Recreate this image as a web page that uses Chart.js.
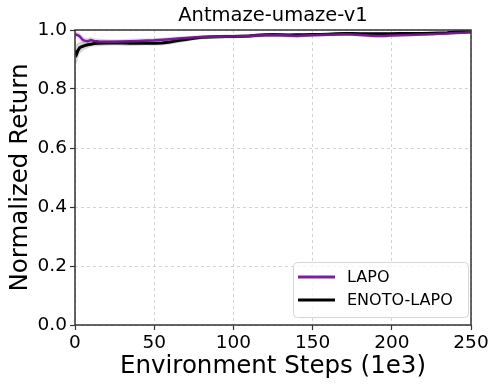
<!DOCTYPE html>
<html>
<head>
<meta charset="utf-8">
<script src="https://cdn.jsdelivr.net/npm/chart.js@4/dist/chart.umd.min.js"></script>
<style>
  html, body { margin: 0; padding: 0; background: #ffffff; }
  #wrap { width: 498px; height: 388px; position: relative; }
</style>
</head>
<body>
<div id="wrap"><canvas id="c" width="498" height="388"></canvas></div>
<script>
// ---- data ----
const chartTitle = "Antmaze-umaze-v1";
const xAxisTitle = "Environment Steps (1e3)";
const yAxisTitle = "Normalized Return";
const seriesNames = ["LAPO", "ENOTO-LAPO"];

const steps = [0,1,2,3,4,5,6,8,10,12,15,
  20,25,30,35,40,45,50,55,60,65,
  70,75,80,85,90,95,100,105,110,115,
  120,125,130,135,140,145,150,155,160,165,
  170,175,180,185,190,195,200,205,210,215,
  220,225,230,235,240,245,250];

const lapoMean = [0.985,0.984,0.982,0.978,0.972,0.966,0.964,0.962,0.966,0.963,0.961,
  0.960,0.960,0.961,0.962,0.963,0.964,0.965,0.967,0.969,0.971,
  0.973,0.975,0.976,0.977,0.977,0.978,0.978,0.979,0.980,0.981,
  0.982,0.983,0.982,0.981,0.980,0.981,0.982,0.983,0.984,0.985,
  0.986,0.985,0.983,0.981,0.980,0.980,0.981,0.982,0.983,0.984,
  0.985,0.986,0.987,0.988,0.990,0.991,0.992];

const lapoStd = [0.008,0.008,0.010,0.012,0.012,0.012,0.011,0.010,0.010,0.009,0.009,
  0.009,0.008,0.008,0.008,0.008,0.007,0.007,0.007,0.007,0.007,
  0.006,0.006,0.006,0.006,0.006,0.006,0.006,0.006,0.006,0.006,
  0.006,0.006,0.006,0.006,0.006,0.005,0.005,0.005,0.005,0.005,
  0.005,0.005,0.005,0.005,0.005,0.005,0.005,0.005,0.005,0.005,
  0.004,0.004,0.004,0.004,0.004,0.004,0.004];

const enotoMean = [0.930,0.918,0.932,0.940,0.943,0.945,0.947,0.950,0.952,0.954,0.955,
  0.956,0.957,0.956,0.955,0.955,0.956,0.955,0.956,0.959,0.964,
  0.968,0.972,0.975,0.976,0.977,0.978,0.978,0.979,0.980,0.982,
  0.984,0.985,0.984,0.983,0.984,0.984,0.985,0.985,0.986,0.987,
  0.988,0.988,0.987,0.987,0.987,0.987,0.987,0.988,0.988,0.988,
  0.988,0.989,0.990,0.991,0.993,0.994,0.994];

const enotoStd = [0.020,0.035,0.025,0.020,0.018,0.015,0.013,0.012,0.010,0.010,0.010,
  0.009,0.009,0.009,0.009,0.008,0.008,0.008,0.008,0.008,0.008,
  0.008,0.007,0.007,0.006,0.006,0.006,0.006,0.006,0.006,0.006,
  0.005,0.005,0.005,0.005,0.005,0.005,0.005,0.005,0.005,0.005,
  0.005,0.005,0.005,0.005,0.005,0.005,0.005,0.005,0.005,0.005,
  0.004,0.004,0.004,0.004,0.004,0.004,0.004];

const xTicks = [0, 50, 100, 150, 200, 250];
const yTicks = [0.0, 0.2, 0.4, 0.6, 0.8, 1.0];

// ---- build datasets ----
const FONT = "'DejaVu Sans', 'Liberation Sans', sans-serif";
const pts = (ys) => steps.map((x, i) => ({ x: x, y: ys[i] }));
const lower = (m, s) => steps.map((x, i) => ({ x: x, y: m[i] - s[i] }));
const upper = (m, s) => steps.map((x, i) => ({ x: x, y: m[i] + s[i] }));

const PURPLE = '#7e1e9c';
const datasets = [
  { data: lower(lapoMean, lapoStd), borderWidth: 0, pointRadius: 0, fill: false, backgroundColor: 'rgba(126,30,156,0.2)', borderColor: 'rgba(0,0,0,0)' },
  { data: upper(lapoMean, lapoStd), borderWidth: 0, pointRadius: 0, fill: '-1', backgroundColor: 'rgba(126,30,156,0.2)', borderColor: 'rgba(0,0,0,0)' },
  { data: lower(enotoMean, enotoStd), borderWidth: 0, pointRadius: 0, fill: false, backgroundColor: 'rgba(0,0,0,0.16)', borderColor: 'rgba(0,0,0,0)' },
  { data: upper(enotoMean, enotoStd), borderWidth: 0, pointRadius: 0, fill: '-1', backgroundColor: 'rgba(0,0,0,0.16)', borderColor: 'rgba(0,0,0,0)' },
  { label: seriesNames[0], data: pts(lapoMean), borderColor: PURPLE, borderWidth: 2.5, pointRadius: 0, fill: false, tension: 0, showInLegend: true },
  { label: seriesNames[1], data: pts(enotoMean), borderColor: '#000000', borderWidth: 3, pointRadius: 0, fill: false, tension: 0, showInLegend: true }
];

// ---- plugins ----
const framePlugin = {
  id: 'frame',
  afterDatasetsDraw(chart) {
    const a = chart.chartArea, ctx = chart.ctx;
    ctx.save();
    ctx.strokeStyle = '#333333';
    ctx.lineWidth = 1.5;
    ctx.strokeRect(a.left, a.top, a.right - a.left, a.bottom - a.top);
    ctx.restore();
  }
};

const boxLegend = {
  id: 'boxLegend',
  afterDraw(chart) {
    const a = chart.chartArea, ctx = chart.ctx;
    const items = chart.data.datasets.filter(d => d.showInLegend);
    const w = 175, h = 55;
    const x = a.right - 3 - w, y = a.bottom - 8 - h;
    ctx.save();
    ctx.beginPath();
    if (ctx.roundRect) ctx.roundRect(x + 0.5, y + 0.5, w, h, 4); else ctx.rect(x + 0.5, y + 0.5, w, h);
    ctx.fillStyle = 'rgba(255,255,255,0.8)';
    ctx.fill();
    ctx.strokeStyle = '#d6d6d6';
    ctx.lineWidth = 1;
    ctx.stroke();
    ctx.font = '16px ' + FONT;
    ctx.textBaseline = 'middle';
    ctx.textAlign = 'left';
    items.forEach((d, i) => {
      const yy = y + 15 + i * 23;
      ctx.beginPath();
      ctx.moveTo(x + 5, yy);
      ctx.lineTo(x + 42, yy);
      ctx.strokeStyle = d.borderColor;
      ctx.lineWidth = 3;
      ctx.stroke();
      ctx.fillStyle = '#000000';
      ctx.fillText(d.label, x + 54, yy + 1);
    });
    ctx.restore();
  }
};

const gridOpts = { color: '#c8c8c8', lineWidth: 0.8, drawTicks: true, tickLength: 5, tickColor: '#333333', tickBorderDash: [], tickWidth: 1.2 };

new Chart(document.getElementById('c'), {
  type: 'line',
  data: { datasets: datasets },
  plugins: [framePlugin, boxLegend],
  options: {
    responsive: false,
    animation: false,
    devicePixelRatio: 1,
    layout: { padding: { top: 0, right: 27, bottom: 0, left: 0 } },
    plugins: {
      legend: { display: false },
      tooltip: { enabled: false },
      filler: { propagate: false },
      title: {
        display: true,
        text: chartTitle,
        fullSize: false,
        color: '#000000',
        font: { family: FONT, size: 19.5, weight: 'normal', lineHeight: 1.2 },
        padding: { top: 4, bottom: 2.6 }
      }
    },
    scales: {
      x: {
        type: 'linear',
        min: 0, max: 250,
        afterBuildTicks: (s) => { s.ticks = xTicks.map(v => ({ value: v })); },
        afterFit: (s) => { s.height = 63; },
        ticks: { color: '#000000', font: { family: FONT, size: 18.5 }, padding: 2, maxRotation: 0, autoSkip: false },
        grid: gridOpts,
        border: { display: false, dash: [3, 3] },
        title: { display: true, text: xAxisTitle, color: '#000000', font: { family: FONT, size: 24.5, lineHeight: 1.2 }, padding: { top: 0, bottom: 7 } }
      },
      y: {
        type: 'linear',
        min: 0, max: 1,
        afterBuildTicks: (s) => { s.ticks = yTicks.map(v => ({ value: v })); },
        afterFit: (s) => { s.width = 75; },
        ticks: { color: '#000000', font: { family: FONT, size: 18.5 }, padding: 3, callback: (v) => Number(v).toFixed(1) },
        grid: gridOpts,
        border: { display: false, dash: [3, 3] },
        title: { display: true, text: yAxisTitle, color: '#000000', font: { family: FONT, size: 24.5, lineHeight: 1.2 }, padding: { top: 6, bottom: 0 } }
      }
    }
  }
});
</script>
</body>
</html>
